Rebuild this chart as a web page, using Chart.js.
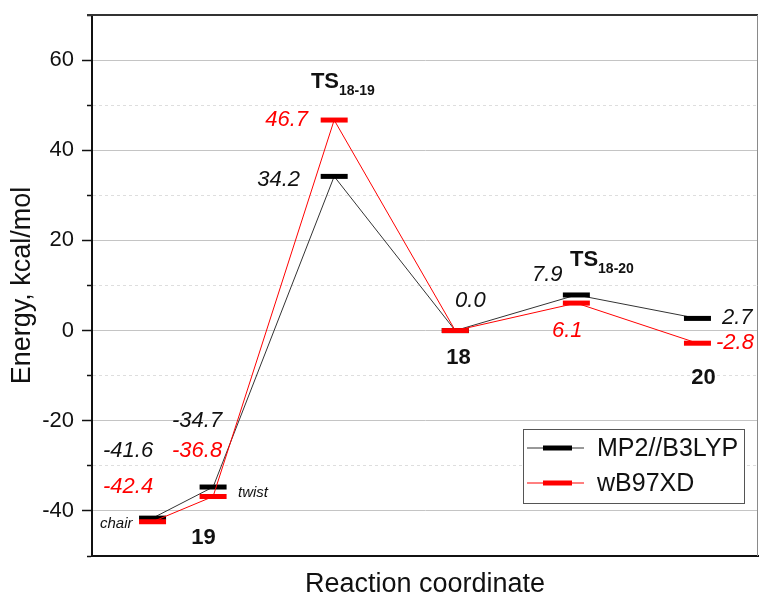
<!DOCTYPE html>
<html>
<head>
<meta charset="utf-8">
<script src="https://cdn.jsdelivr.net/npm/chart.js@4/dist/chart.umd.min.js"></script>
<style>
  html, body { margin: 0; padding: 0; background: #ffffff; }
  #wrap { width: 759px; height: 601px; }
</style>
</head>
<body>
<div id="wrap"><canvas id="c" width="759" height="601"></canvas></div>
<script>
// ---------------- data ----------------
const categories = ['19 chair', '19 twist', 'TS18-19', '18', 'TS18-20', '20'];
const xPositions = [0.5, 1, 2, 3, 4, 5];                 // reaction coordinate
const mp2Energies = [-41.6, -34.7, 34.2, 0.0, 7.9, 2.7];  // MP2//B3LYP
const wb97xdEnergies = [-42.4, -36.8, 46.7, 0.0, 6.1, -2.8]; // wB97XD
const seriesNames = ['MP2//B3LYP', 'wB97XD'];
const yTickValues = [60, 40, 20, 0, -20, -40];
const structureNames = ['19', '18', '20'];
const conformerNames = ['chair', 'twist'];
const tsNames = ['TS', 'TS'];
const tsSubscripts = ['18-19', '18-20'];

// ---------------- layout / style (separate from data) ----------------
const FONT = "'Liberation Sans', Arial, Helvetica, sans-serif";
const BLACK = '#111111';
const LINE_BLACK = '#333333';
const RED = '#ff0000';

// value-label placement for each point (data coords), null = no label
const mp2LabelPlace = [
  {x: 0.091, y: -26.67, align: 'left'},
  {x: 0.661, y: -20.0, align: 'left'},
  {x: 1.718, y: 33.33, align: 'right'},
  {x: 2.998, y: 6.67, align: 'left'},
  {x: 3.633, y: 12.44, align: 'left'},
  {x: 5.202, y: 2.89, align: 'left'}
];
const wbLabelPlace = [
  {x: 0.091, y: -34.67, align: 'left'},
  {x: 0.661, y: -26.67, align: 'left'},
  {x: 1.784, y: 46.67, align: 'right'},
  null,
  {x: 3.798, y: 0.0, align: 'left'},
  {x: 5.153, y: -2.67, align: 'left'}
];
const structurePlace = [
  {x: 0.921, y: -46.0},
  {x: 3.026, y: -6.0},
  {x: 5.049, y: -10.44}
];
const conformerPlace = [
  {x: 0.066, y: -42.89},
  {x: 1.206, y: -36.0}
];
const tsPlace = [
  {x: 1.808, y: 53.78},
  {x: 3.947, y: 14.22}
];

function toPoints(xs, ys) { return xs.map((x, i) => ({x: x, y: ys[i]})); }

function noPad(scale) {
  scale.paddingTop = 0; scale.paddingBottom = 0;
  scale.paddingLeft = 0; scale.paddingRight = 0;
}

const annotationPlugin = {
  id: 'annotations',
  afterDatasetsDraw(chart) {
    const ctx = chart.ctx;
    const xs = chart.scales.x, ys = chart.scales.y;
    const px = v => xs.getPixelForValue(v);
    const py = v => ys.getPixelForValue(v);
    ctx.save();
    ctx.textBaseline = 'middle';
    const drawVals = (vals, places, color) => {
      vals.forEach((v, i) => {
        const p = places[i];
        if (!p) return;
        ctx.font = 'italic 22px ' + FONT;
        ctx.fillStyle = color;
        ctx.textAlign = p.align;
        ctx.fillText(v.toFixed(1), px(p.x), py(p.y));
      });
    };
    drawVals(mp2Energies, mp2LabelPlace, BLACK);
    drawVals(wb97xdEnergies, wbLabelPlace, RED);
    ctx.font = 'bold 22px ' + FONT;
    ctx.fillStyle = BLACK;
    ctx.textAlign = 'center';
    structureNames.forEach((s, i) => ctx.fillText(s, px(structurePlace[i].x), py(structurePlace[i].y)));
    ctx.font = 'italic 15px ' + FONT;
    ctx.textAlign = 'left';
    conformerNames.forEach((s, i) => ctx.fillText(s, px(conformerPlace[i].x), py(conformerPlace[i].y)));
    ctx.textBaseline = 'alphabetic';
    tsNames.forEach((s, i) => {
      const x0 = px(tsPlace[i].x), y0 = py(tsPlace[i].y);
      ctx.font = 'bold 22px ' + FONT;
      ctx.textAlign = 'left';
      ctx.fillText(s, x0, y0);
      const w = ctx.measureText(s).width;
      ctx.font = 'bold 14px ' + FONT;
      ctx.fillText(tsSubscripts[i], x0 + w, y0 + 7);
    });
    ctx.restore();
  },
  afterDraw(chart) {
    const ctx = chart.ctx;
    const a = chart.chartArea;
    ctx.save();
    ctx.strokeStyle = '#333333';
    ctx.lineWidth = 2;
    ctx.beginPath();
    ctx.moveTo(a.left - 5, a.top);
    ctx.lineTo(a.right, a.top);
    ctx.stroke();
    ctx.strokeStyle = '#8a8a8a';
    ctx.lineWidth = 1;
    ctx.beginPath();
    ctx.moveTo(a.right - 0.5, a.top);
    ctx.lineTo(a.right - 0.5, a.bottom);
    ctx.stroke();
    // legend
    const bx = a.right - 235, by = a.bottom - 127, bw = 221, bh = 74;
    ctx.fillStyle = '#ffffff';
    ctx.fillRect(bx, by, bw, bh);
    ctx.strokeStyle = '#555555';
    ctx.lineWidth = 1;
    ctx.strokeRect(bx + 0.5, by + 0.5, bw, bh);
    chart.data.datasets.forEach((ds, i) => {
      const yy = by + 19 + i * 35;
      ctx.strokeStyle = ds.borderColor;
      ctx.lineWidth = 1;
      ctx.beginPath();
      ctx.moveTo(bx + 4, yy);
      ctx.lineTo(bx + 61, yy);
      ctx.stroke();
      ctx.strokeStyle = ds.pointBorderColor;
      ctx.lineWidth = 5;
      ctx.beginPath();
      ctx.moveTo(bx + 20, yy);
      ctx.lineTo(bx + 49, yy);
      ctx.stroke();
      ctx.fillStyle = BLACK;
      ctx.font = '25px ' + FONT;
      ctx.textAlign = 'left';
      ctx.textBaseline = 'middle';
      ctx.fillText(ds.label, bx + 74, yy + 1);
    });
    ctx.restore();
  }
};

new Chart(document.getElementById('c'), {
  type: 'line',
  data: {
    datasets: [
      {
        label: seriesNames[0],
        data: toPoints(xPositions, mp2Energies),
        borderColor: LINE_BLACK,
        borderWidth: 1,
        pointStyle: 'line',
        pointRadius: 13.5,
        pointHoverRadius: 13.5,
        pointBorderWidth: 5,
        pointBorderColor: '#000000',
        order: 2
      },
      {
        label: seriesNames[1],
        data: toPoints(xPositions, wb97xdEnergies),
        borderColor: RED,
        borderWidth: 1,
        pointStyle: 'line',
        pointRadius: 13.5,
        pointHoverRadius: 13.5,
        pointBorderWidth: 5,
        pointBorderColor: RED,
        order: 1
      }
    ]
  },
  options: {
    responsive: false,
    animation: false,
    devicePixelRatio: 1,
    events: [],
    layout: { autoPadding: false, padding: { top: 15, right: 1, left: 0, bottom: 0 } },
    plugins: { legend: { display: false }, tooltip: { enabled: false } },
    scales: {
      x: {
        type: 'linear',
        min: 0,
        max: 5.5,
        offset: false,
        ticks: { display: false },
        grid: { display: false },
        border: { display: true, color: BLACK, width: 2 },
        title: {
          display: true,
          text: 'Reaction coordinate',
          color: BLACK,
          font: { family: FONT, size: 27 },
          padding: { top: 0, bottom: 0 }
        },
        afterFit(scale) { scale.height = 45; noPad(scale); }
      },
      y: {
        type: 'linear',
        min: -50,
        max: 70,
        ticks: {
          stepSize: 10,
          autoSkip: false,
          padding: 8,
          color: BLACK,
          font: { family: FONT, size: 22 },
          callback: v => (yTickValues.includes(v) ? String(v) : '')
        },
        grid: {
          color: c => (c.tick && yTickValues.includes(c.tick.value)) ? '#c4c4c4' : '#dedede',
          lineWidth: 1,
          tickLength: 10,
          tickWidth: 1.5,
          tickColor: BLACK,
          tickBorderDash: c => (c.tick && yTickValues.includes(c.tick.value)) ? [] : [0, 5, 5, 100]
        },
        border: {
          display: true,
          color: BLACK,
          width: 2,
          dash: c => (c.type === 'tick' && c.tick && !yTickValues.includes(c.tick.value)) ? [3, 3] : []
        },
        title: {
          display: true,
          text: 'Energy, kcal/mol',
          color: BLACK,
          font: { family: FONT, size: 27 },
          padding: { top: 6, bottom: 0 }
        },
        afterFit(scale) { scale.width = 92; noPad(scale); }
      }
    }
  },
  plugins: [annotationPlugin]
});
</script>
</body>
</html>
